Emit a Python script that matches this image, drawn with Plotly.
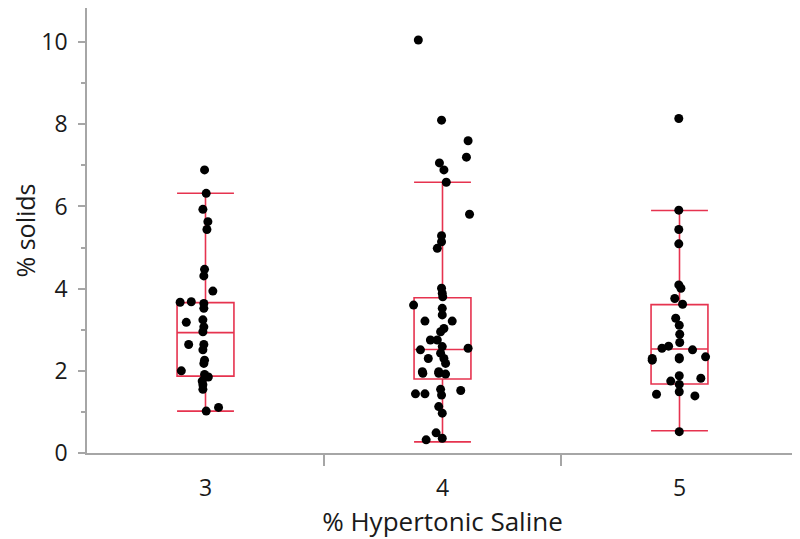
import plotly.graph_objects as go

# Categories (% Hypertonic Saline)
groups = [3, 4, 5]

# Box statistics
q1 = [1.87, 1.80, 1.68]
median = [2.93, 2.52, 2.53]
q3 = [3.66, 3.78, 3.61]
lowerfence = [1.02, 0.27, 0.54]
upperfence = [6.32, 6.59, 5.90]

# Individual observations (% solids) and horizontal jitter (category units)
g3_y = [6.89, 6.32, 5.93, 5.63, 5.44, 4.47, 4.31, 3.94, 3.67, 3.68, 3.64, 3.52,
        3.18, 3.24, 3.07, 2.95, 2.64, 2.64, 2.51, 2.26, 2.18, 2.00, 1.91, 1.85,
        1.75, 1.66, 1.55, 1.11, 1.02]
g3_j = [-0.004, 0.003, -0.011, 0.010, 0.006, -0.004, -0.007, 0.031, -0.107, -0.060, -0.007, -0.007,
        -0.081, -0.011, -0.007, -0.011, -0.071, -0.007, -0.011, -0.004, -0.007, -0.102, -0.004, 0.012,
        -0.014, -0.011, -0.011, 0.055, 0.003]

g4_y = [10.05, 8.10, 7.60, 7.20, 7.06, 6.89, 6.59, 5.81, 5.29, 5.14, 4.98, 4.01,
        3.89, 3.80, 3.60, 3.52, 3.36, 3.21, 3.21, 3.03, 2.95, 2.75, 2.75, 2.59,
        2.51, 2.55, 2.30, 2.43, 2.30, 2.18, 1.98, 1.98, 1.94, 1.94, 1.92, 1.44,
        1.44, 1.52, 1.55, 1.41, 1.13, 0.97, 0.49, 0.32, 0.36]
g4_j = [-0.102, -0.004, 0.108, 0.101, -0.013, 0.006, 0.016, 0.114, -0.004, -0.004, -0.022, -0.004,
        -0.001, 0.001, -0.122, -0.001, -0.001, -0.074, 0.041, 0.006, -0.008, -0.051, -0.022, -0.001,
        -0.093, 0.108, -0.060, -0.008, 0.006, 0.013, -0.085, -0.016, -0.083, -0.016, 0.013, -0.114,
        -0.074, 0.077, -0.008, -0.004, -0.016, -0.001, -0.027, -0.069, -0.001]

g5_y = [8.14, 5.91, 5.44, 5.09, 4.09, 4.01, 3.76, 3.62, 3.28, 3.11, 2.89, 2.69,
        2.55, 2.60, 2.51, 2.30, 2.32, 2.34, 2.26, 2.29, 1.88, 1.75, 1.82, 1.67,
        1.49, 1.43, 1.39, 0.52]
g5_j = [-0.003, -0.003, -0.003, -0.003, -0.003, 0.006, -0.020, 0.013, -0.016, -0.001, 0.001, 0.001,
        -0.074, -0.046, 0.055, -0.115, -0.001, 0.110, -0.115, -0.001, -0.001, -0.037, 0.090, -0.001,
        -0.001, -0.097, 0.065, -0.001]

point_y = [g3_y, g4_y, g5_y]
point_j = [g3_j, g4_j, g5_j]

BOX_RED = "#e6334f"
AXIS_GRAY = "#a6a6a6"
FONT = "Open Sans"

fig = go.Figure()

for g, ys, js in zip(groups, point_y, point_j):
    fig.add_trace(go.Scatter(
        x=[g + j for j in js], y=ys, mode="markers",
        marker=dict(color="black", size=9, line=dict(width=0)),
        showlegend=False, hoverinfo="y"))

fig.add_trace(go.Box(
    x=groups, q1=q1, median=median, q3=q3,
    lowerfence=lowerfence, upperfence=upperfence,
    width=0.24, whiskerwidth=1, boxpoints=False,
    fillcolor="rgba(0,0,0,0)", line=dict(color=BOX_RED, width=1.6),
    showlegend=False))

fig.update_layout(
    width=800, height=539,
    margin=dict(l=79, r=10, t=0, b=94),
    paper_bgcolor="white", plot_bgcolor="white",
    font=dict(family=FONT, color="#1a1a1a"),
    showlegend=False,
)

fig.update_xaxes(
    automargin=False,
    range=[2.5, 5.5], tickmode="array", tickvals=groups, ticktext=[str(g) for g in groups],
    ticks="outside", ticklen=14, tickcolor="rgba(0,0,0,0)",
    tickfont=dict(size=23, family=FONT), showgrid=False, zeroline=False,
    showline=True, linecolor=AXIS_GRAY, linewidth=1.5, mirror=False,
    minor=dict(tickmode="array", tickvals=[3.5, 4.5], ticks="outside", ticklen=11,
               tickcolor=AXIS_GRAY, tickwidth=1.5, showgrid=False),
    title=dict(text="% Hypertonic Saline", font=dict(size=26, family=FONT), standoff=6),
)

fig.update_yaxes(
    automargin=False,
    range=[0, 10.83], tickmode="array", tickvals=[0, 2, 4, 6, 8, 10],
    ticks="outside", ticklen=7, tickcolor=AXIS_GRAY, tickwidth=1.5,
    ticklabelstandoff=6,
    tickfont=dict(size=23, family=FONT), showgrid=False, zeroline=False,
    showline=True, linecolor=AXIS_GRAY, linewidth=1.5, mirror=True,
    minor=dict(dtick=1, ticks="outside", ticklen=4, tickcolor=AXIS_GRAY, tickwidth=1.5, showgrid=False),
    title=dict(text="% solids", font=dict(size=25, family=FONT), standoff=6),
)

fig.write_html("out.html")
